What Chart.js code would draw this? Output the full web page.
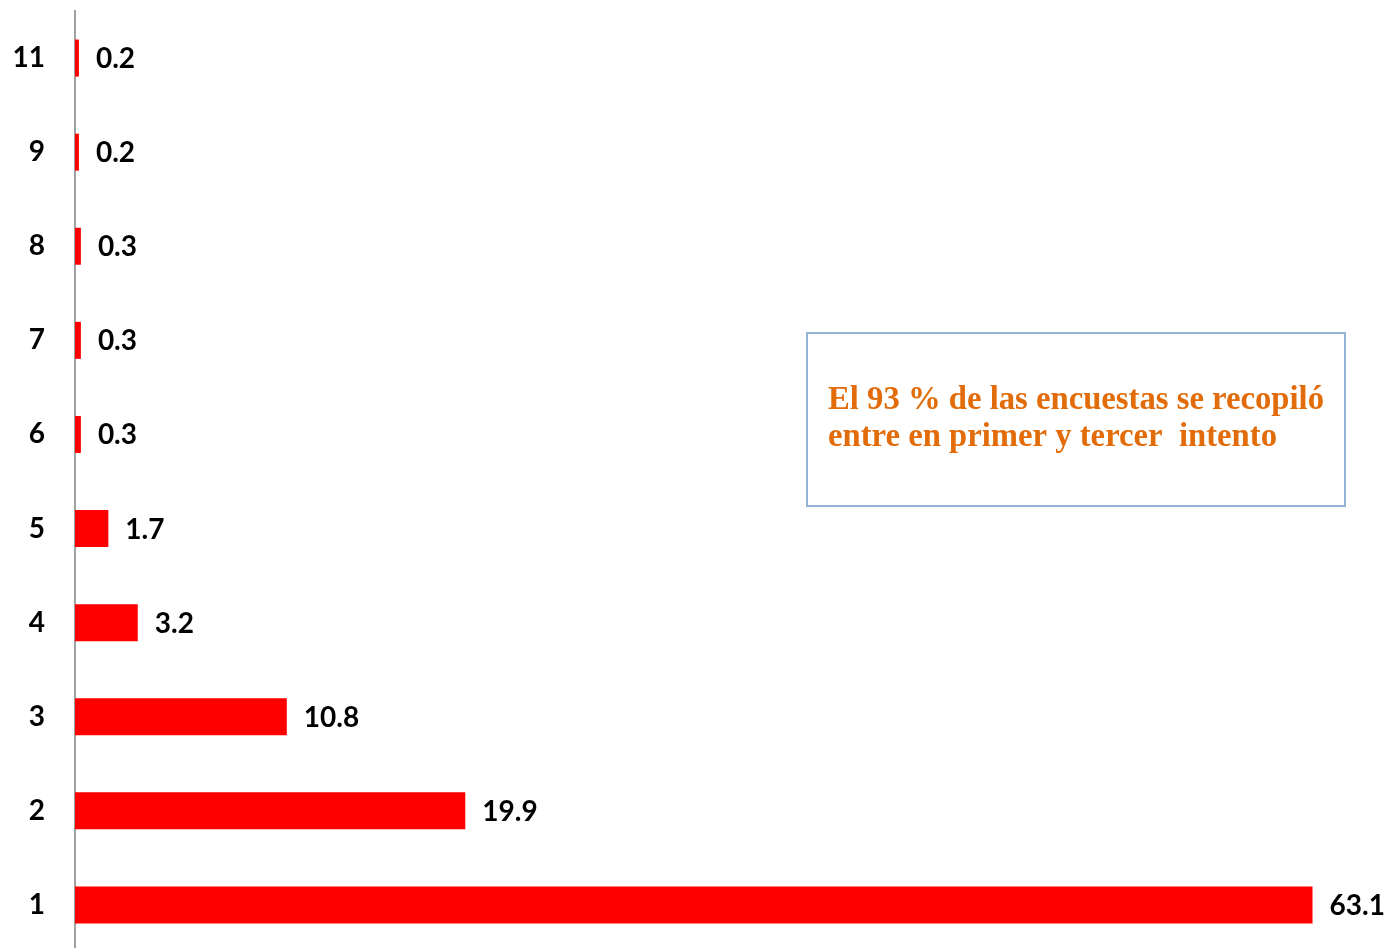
<!DOCTYPE html>
<html>
<head>
<meta charset="utf-8">
<script src="https://cdn.jsdelivr.net/npm/chart.js@4"></script>
<style>
  html, body { margin: 0; padding: 0; background: #ffffff; overflow: hidden; }
  canvas { display: block; }
</style>
</head>
<body>
<canvas id="c" width="1391" height="952"></canvas>
<script>
const categories = ['11', '9', '8', '7', '6', '5', '4', '3', '2', '1'];
const values = [0.2, 0.2, 0.3, 0.3, 0.3, 1.7, 3.2, 10.8, 19.9, 63.1];
const noteLines = ['El 93 % de las encuestas se recopiló', 'entre en primer y tercer  intento'];

const valueLabels = {
  id: 'valueLabels',
  afterDatasetsDraw(chart) {
    const ctx = chart.ctx;
    const meta = chart.getDatasetMeta(0);
    ctx.save();
    ctx.font = 'bold 28px Lato, "Open Sans", sans-serif';
    ctx.fillStyle = '#000000';
    ctx.textAlign = 'left';
    ctx.textBaseline = 'middle';
    meta.data.forEach((bar, i) => {
      ctx.fillText(String(values[i]), bar.x + 17, bar.y + 1);
    });
    ctx.restore();
  }
};

const noteBox = {
  id: 'noteBox',
  afterDraw(chart) {
    const ctx = chart.ctx;
    ctx.save();
    ctx.strokeStyle = '#95B3D7';
    ctx.lineWidth = 2;
    ctx.strokeRect(807, 333, 538, 173);
    ctx.font = 'bold 32.7px "Liberation Serif", "Times New Roman", serif';
    ctx.fillStyle = '#E36C0A';
    ctx.textAlign = 'left';
    ctx.textBaseline = 'alphabetic';
    ctx.fillText(noteLines[0], 828, 409);
    ctx.fillText(noteLines[1], 828, 446);
    ctx.restore();
  }
};

new Chart(document.getElementById('c'), {
  type: 'bar',
  data: {
    labels: categories,
    datasets: [{
      data: values,
      backgroundColor: '#FF0000',
      borderWidth: 0,
      barPercentage: 0.393,
      categoryPercentage: 1.0
    }]
  },
  options: {
    indexAxis: 'y',
    responsive: false,
    animation: false,
    devicePixelRatio: 1,
    layout: { padding: { top: 11, right: 2, bottom: 0, left: 0 } },
    plugins: {
      legend: { display: false },
      tooltip: { enabled: false }
    },
    scales: {
      x: {
        display: false,
        min: 0,
        max: 67
      },
      y: {
        afterFit(scale) {
          scale.width = 75;
          scale.paddingTop = 0;
          scale.paddingBottom = 0;
        },
        grid: { display: false, drawTicks: false },
        border: { display: true, color: '#A0A0A0', width: 2 },
        ticks: {
          padding: 30,
          color: '#000000',
          font: { family: 'Lato, "Open Sans", sans-serif', size: 28, weight: 'bold' }
        }
      }
    }
  },
  plugins: [valueLabels, noteBox]
});
</script>
</body>
</html>
